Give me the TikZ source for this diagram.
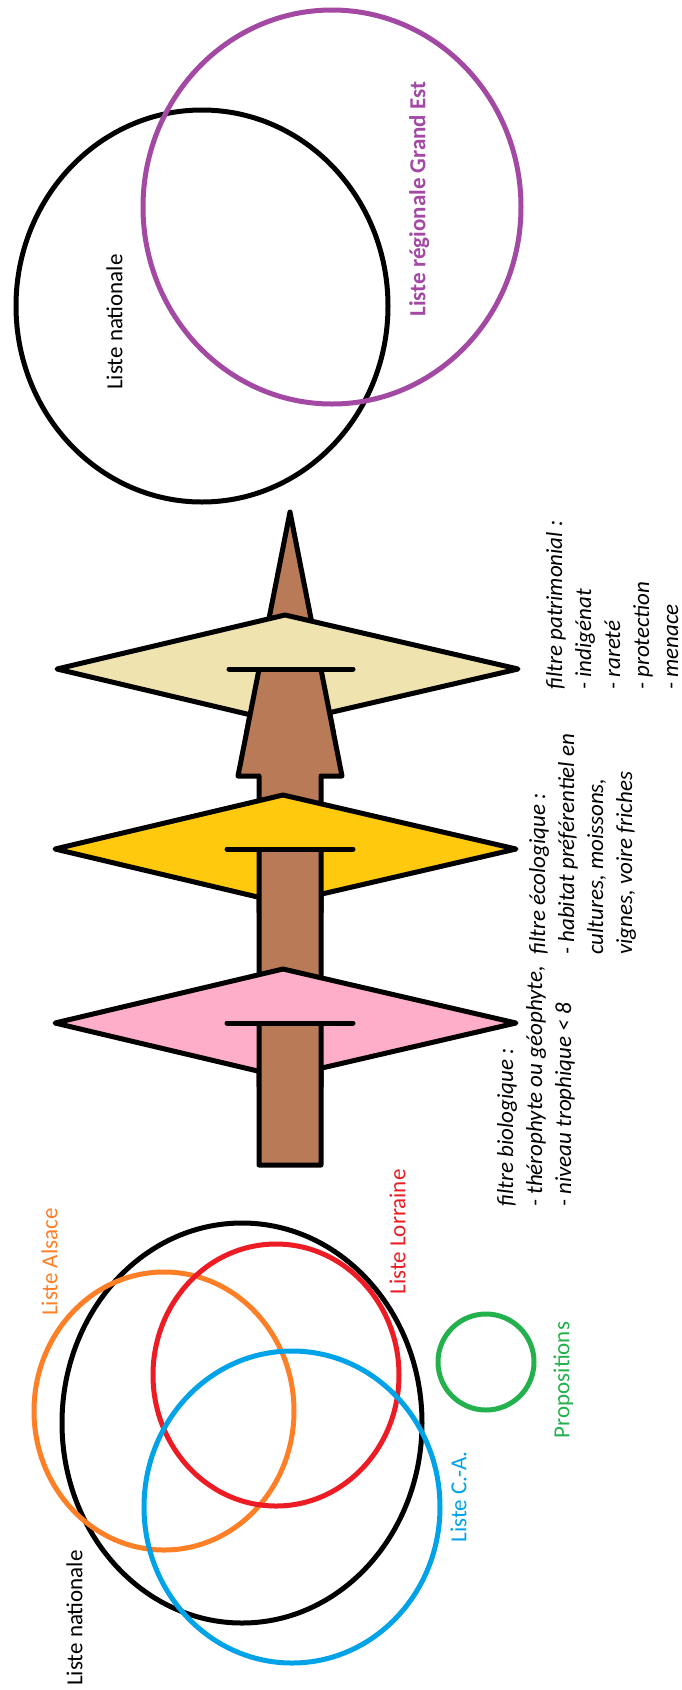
\documentclass[tikz,border=0pt]{standalone}
\usepackage{fontspec}
\setmainfont{Carlito}
\usepackage{tikz}
\definecolor{rose}{RGB}{255,174,201}
\definecolor{jaune}{RGB}{255,201,14}
\definecolor{creme}{RGB}{239,228,176}
\definecolor{brun}{RGB}{185,122,87}
\definecolor{orangeP}{RGB}{255,127,39}
\definecolor{rougeP}{RGB}{237,28,36}
\definecolor{bleuP}{RGB}{0,162,232}
\definecolor{vertP}{RGB}{34,177,76}
\definecolor{violetP}{RGB}{163,73,164}

\begin{document}
\begin{tikzpicture}[
  x=1pt, y=-1pt,
  cercle/.style={line width=5pt},
  filtre/.style={draw, line width=5pt, line join=round},
  fleche/.style={draw, fill=brun, line width=5pt, line join=round},
  barre/.style={line width=5pt, line cap=round},
  etiq/.style={rotate=90, inner sep=0pt, anchor=mid,
    font=\fontsize{23}{27}\selectfont},
  legende/.style={rotate=90, inner sep=0pt, anchor=north west, align=left,
    font=\itshape\fontsize{23}{29}\selectfont}
]
\fill[white] (0,0) rectangle (681,1690);
\useasboundingbox (0,0) rectangle (681,1690);

\draw[cercle] (202,306) ellipse [x radius=186pt, y radius=196pt];
\draw[cercle, violetP] (332,207) ellipse [x radius=189pt, y radius=197pt];
\node[etiq] (natH) at (120,322) {Liste nationale};
\node[etiq, text=violetP, font=\bfseries\fontsize{23}{27}\selectfont] (regGE) at (423,199) {Liste régionale Grand Est};

\path[fleche] (259,1165) -- (259,776) -- (238,776) -- (290,512) -- (342,776) -- (321,776) -- (321,1165) -- cycle;

\path[filtre, fill=rose] (55,1023) -- (283,969) -- (516,1023) -- (283,1077) -- cycle;
\begin{scope}
  \clip (0,1023) rectangle (681,1086);
  \path[fleche] (259,1165) -- (259,776) -- (238,776) -- (290,512) -- (342,776) -- (321,776) -- (321,1165) -- cycle;
\end{scope}
\draw[barre] (227,1023) -- (353,1023);

\path[filtre, fill=jaune] (55,849) -- (283,795) -- (516,849) -- (283,903) -- cycle;
\begin{scope}
  \clip (0,849) rectangle (681,912);
  \path[fleche] (259,1165) -- (259,776) -- (238,776) -- (290,512) -- (342,776) -- (321,776) -- (321,1165) -- cycle;
\end{scope}
\draw[barre] (227,849) -- (353,849);

\path[filtre, fill=creme] (57,669) -- (285,615) -- (518,669) -- (285,723) -- cycle;
\begin{scope}
  \clip (0,669) rectangle (681,732);
  \path[fleche] (259,1165) -- (259,776) -- (238,776) -- (290,512) -- (342,776) -- (321,776) -- (321,1165) -- cycle;
\end{scope}
\draw[barre] (229,669) -- (353,669);

\node[legende] (bio) at (497,1207) {filtre biologique :\\- thérophyte ou géophyte,\\- niveau trophique < 8};
\node[legende] (eco) at (529,955) {filtre écologique :\\- habitat préférentiel en\\cultures, moissons,\\vignes, voire friches};
\node[legende] (patri) at (546,690) {filtre patrimonial :\\- indigénat\\- rareté\\- protection\\- menace};

\draw[cercle] (242,1423) ellipse [x radius=180pt, y radius=200pt];
\draw[cercle, orangeP] (164,1411) ellipse [x radius=130pt, y radius=139pt];
\draw[cercle, rougeP] (276,1375) ellipse [x radius=123pt, y radius=131pt];
\draw[cercle, bleuP] (292,1507) ellipse [x radius=148pt, y radius=156pt];
\draw[cercle, vertP] (486,1362) circle [radius=48pt];

\node[etiq, text=orangeP] (alsace) at (55,1262) {Liste Alsace};
\node[etiq, text=rougeP] (lorraine) at (403,1232) {Liste Lorraine};
\node[etiq] (natB) at (80,1618) {Liste nationale};
\node[etiq, text=bleuP] (champA) at (464,1497) {Liste C.-A.};
\node[etiq, text=vertP] (propos) at (567,1380) {Propositions};
\end{tikzpicture}
\end{document}
